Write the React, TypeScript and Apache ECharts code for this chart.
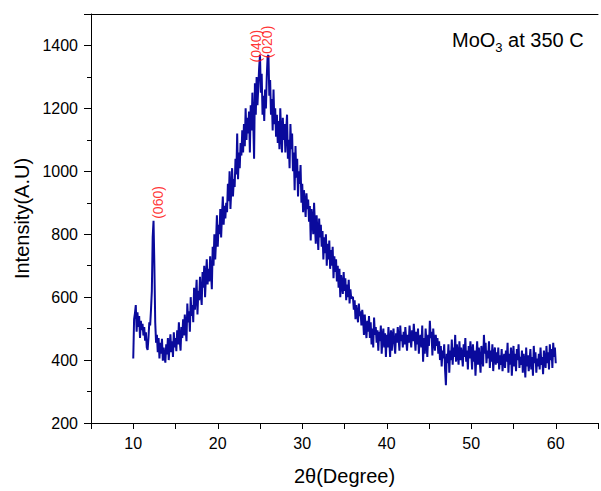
import React, { useEffect, useRef } from "react";
import * as echarts from "echarts";

// XRD scan: 2θ from 10.0° to 60.0° in 0.1° steps
const scanStart = 10;
const scanStep = 0.1;

const intensity10to20 = [
  405, 530, 548, 575, 490, 552, 505, 540, 470, 525,
  495, 515, 478, 505, 462, 488, 440, 432, 470, 520,
  510, 560, 620, 790, 843, 700, 520, 455, 480, 425,
  470, 405, 455, 420, 468, 398, 440, 412, 392, 450,
  418, 470, 400, 445, 482, 425, 460, 410, 488, 440,
  470, 428, 495, 450, 520, 462, 430, 505, 470, 530,
  478, 545, 500, 460, 580, 520, 555, 490, 600, 540,
  575, 520, 630, 560, 600, 655, 545, 620, 590, 665,
  610, 575, 680, 630, 700, 600, 665, 720, 640, 690,
  650, 730, 680, 625, 760, 700, 800, 720, 780, 860,
];
const intensity20to30 = [
  760, 830, 800, 880, 790, 860, 920, 830, 890, 850,
  900, 870, 960, 905, 1000, 880, 940, 1010, 920, 975,
  950, 1040, 990, 1120, 975, 1060, 1010, 1090, 1050, 1130,
  1060, 1150, 1080, 1200, 1100, 1170, 1120, 1190, 1060, 1210,
  1130, 1250, 1160, 1040, 1280, 1180, 1300, 1210, 1270, 1330,
  1370, 1250, 1310, 1180, 1240, 1160, 1260, 1200, 1300, 1365,
  1370, 1240, 1290, 1180, 1230, 1130, 1260, 1150, 1200, 1110,
  1180, 1090, 1160, 1070, 1200, 1120, 1060, 1170, 1100, 1150,
  1060, 1130, 1180, 1040, 1100, 1010, 1150, 1070, 1120, 1000,
  1060, 940, 1080, 980, 1040, 920, 1000, 960, 1020, 900,
];
const intensity30to40 = [
  960, 870, 940, 900, 855, 930, 880, 910, 840, 890,
  780, 880, 850, 800, 900, 830, 770, 860, 810, 750,
  850, 790, 830, 760, 810, 720, 790, 740, 800, 700,
  770, 720, 780, 690, 750, 700, 760, 660, 730, 680,
  720, 650, 700, 630, 690, 600, 670, 640, 610, 680,
  620, 660, 590, 640, 600, 655, 580, 625, 595, 600,
  600, 560, 590, 530, 575, 545, 520, 580, 540, 555,
  510, 560, 530, 480, 545, 500, 470, 525, 490, 540,
  470, 520, 450, 500, 440, 535, 480, 505, 455, 495,
  430, 490, 460, 510, 420, 475, 500, 440, 485, 410,
];
const intensity40to50 = [
  480, 440, 505, 460, 410, 495, 430, 475, 500, 450,
  420, 485, 455, 505, 470, 430, 510, 460, 480, 440,
  490, 450, 505, 465, 430, 480, 455, 510, 470, 440,
  495, 460, 515, 475, 430, 490, 450, 500, 420, 470,
  480, 440, 510, 395, 470, 420, 500, 455, 410, 480,
  445, 525, 470, 490, 415, 500, 460, 430, 480, 445,
  470, 420, 460, 400, 445, 380, 430, 405, 450, 370,
  320, 420, 390, 450, 360, 430, 400, 465, 385, 440,
  410, 480, 395, 450, 420, 385, 460, 400, 440, 415,
  380, 450, 410, 470, 395, 430, 370, 445, 405, 460,
];
const intensity50to60 = [
  420, 370, 450, 395, 430, 350, 410, 460, 385, 440,
  400, 360, 445, 415, 380, 480, 420, 455, 390, 430,
  405, 460, 375, 430, 395, 450, 365, 420, 440, 385,
  425, 390, 440, 370, 415, 385, 435, 365, 400, 420,
  375, 430, 395, 455, 360, 420, 385, 440, 350, 410,
  445, 380, 420, 365, 435, 400, 450, 375, 410, 385,
  430, 360, 420, 395, 345, 440, 380, 415, 365, 400,
  435, 370, 410, 350, 445, 390, 425, 360, 405, 380,
  420, 370, 440, 385, 410, 355, 430, 395, 375, 445,
  390, 425, 370, 450, 400, 435, 375, 455, 410, 440,
  390,
];

const peakLabels = ["(060)", "(040)", "(020)"];
const peakLabelAngles = [12.96, 24.56, 25.84];
const peakLabelIntensities = [849, 1346, 1359];

const xTickLabels = [10, 20, 30, 40, 50, 60];
const yTickLabels = [200, 400, 600, 800, 1000, 1200, 1400];

const FONT = "'Liberation Sans', Arial, sans-serif";

export default function App() {
  const ref = useRef<HTMLDivElement>(null);

  useEffect(() => {
    if (!ref.current) return;
    const chart = echarts.init(ref.current, null, { renderer: "svg" });

    const intensity = [
      ...intensity10to20,
      ...intensity20to30,
      ...intensity30to40,
      ...intensity40to50,
      ...intensity50to60,
    ];
    const lineData = intensity.map((v, i) => [
      Math.round((scanStart + i * scanStep) * 100) / 100,
      v,
    ]);
    const labelData = peakLabels.map((name, i) => ({
      value: [peakLabelAngles[i], peakLabelIntensities[i]],
      name,
    }));

    chart.setOption({
      animation: false,
      backgroundColor: "#fff",
      grid: { left: 91, right: -2, top: 14, bottom: 65 },
      xAxis: [
        {
          type: "value",
          min: 5,
          max: 65,
          interval: 5,
          name: "2θ(Degree)",
          nameLocation: "middle",
          nameGap: 43,
          nameTextStyle: { fontFamily: FONT, fontSize: 20, color: "#000" },
          axisLine: { show: true, lineStyle: { color: "#000", width: 1 } },
          axisTick: { show: true, inside: false, length: 6, lineStyle: { color: "#000" } },
          axisLabel: {
            margin: 12,
            fontFamily: FONT,
            fontSize: 16,
            color: "#000",
            formatter: (v: number) => (xTickLabels.includes(v) ? String(v) : ""),
          },
          splitLine: { show: false },
        },
        {
          type: "value",
          position: "top",
          min: 5,
          max: 65,
          axisLine: { show: true, onZero: false, lineStyle: { color: "#000", width: 1 } },
          axisTick: { show: false },
          axisLabel: { show: false },
          splitLine: { show: false },
        },
      ],
      yAxis: {
        type: "value",
        min: 200,
        max: 1500,
        interval: 200,
        name: "Intensity(A.U)",
        nameLocation: "middle",
        nameGap: 54,
        nameRotate: 90,
        nameTextStyle: { fontFamily: FONT, fontSize: 20, color: "#000" },
        axisLine: { show: true, lineStyle: { color: "#000", width: 1 } },
        axisTick: { show: true, inside: false, length: 7, lineStyle: { color: "#000" } },
        minorTick: { show: true, splitNumber: 2, length: 4, lineStyle: { color: "#000" } },
        axisLabel: {
          margin: 13,
          fontFamily: FONT,
          fontSize: 16,
          color: "#000",
          formatter: (v: number) => (yTickLabels.includes(v) ? String(v) : ""),
        },
        splitLine: { show: false },
        minorSplitLine: { show: false },
      },
      series: [
        {
          type: "line",
          xAxisIndex: 0,
          data: lineData,
          showSymbol: false,
          symbol: "none",
          lineStyle: { color: "#0a0a9c", width: 2 },
          z: 2,
        },
        {
          type: "scatter",
          xAxisIndex: 0,
          data: labelData,
          symbolSize: 1,
          itemStyle: { color: "rgba(0,0,0,0)" },
          label: {
            show: true,
            position: "inside",
            rotate: 90,
            align: "left",
            verticalAlign: "middle",
            formatter: (p: any) => p.name,
            fontFamily: FONT,
            fontSize: 14,
            color: "#ff0000",
          },
          z: 3,
        },
      ],
      graphic: [
        {
          type: "text",
          x: 452,
          y: 26,
          style: {
            text: "{a|MoO}{b|3}{a| at 350 C}",
            fill: "#000",
            rich: {
              a: { fontFamily: FONT, fontSize: 20, lineHeight: 28, fill: "#000" },
              b: { fontFamily: FONT, fontSize: 13, lineHeight: 28, verticalAlign: "bottom", fill: "#000" },
            },
          },
        },
      ],
    });

    return () => chart.dispose();
  }, []);

  return (
    <div
      ref={ref}
      style={{ position: "fixed", left: 0, top: 0, width: 601, height: 491, background: "#fff" }}
    />
  );
}
